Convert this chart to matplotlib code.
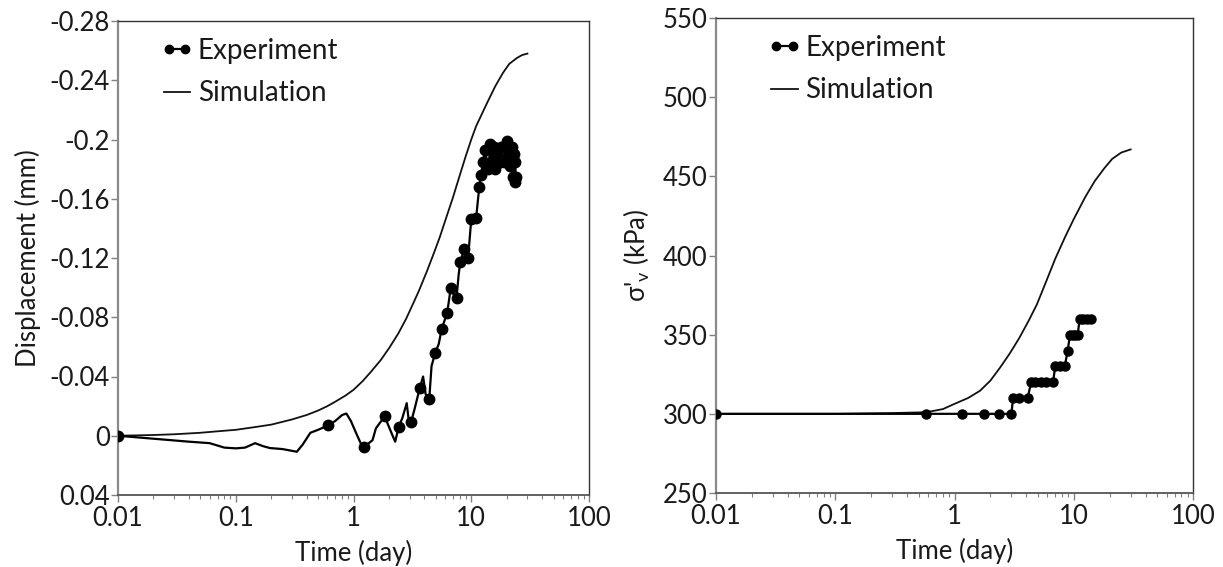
import matplotlib
matplotlib.use("Agg")
import matplotlib.pyplot as plt
from matplotlib.ticker import FixedLocator, FixedFormatter, LogLocator, NullFormatter
from matplotlib.lines import Line2D
from matplotlib.legend_handler import HandlerLine2D

plt.rcParams['font.family'] = ['Lato', 'DejaVu Sans']
plt.rcParams['mathtext.fontset'] = 'custom'
plt.rcParams['mathtext.rm'] = 'Lato'

# ---- displacement panel -------------------------------------------------
disp_sim_t = [0.01, 0.02, 0.03, 0.05, 0.07, 0.1, 0.15, 0.2, 0.3, 0.4, 0.5,
              0.6, 0.7, 0.85, 1.0, 1.2, 1.4, 1.7, 2.0, 2.4, 2.8, 3.2, 3.6,
              4.2, 4.8, 5.4, 6.0, 7.0, 8.0, 9.0, 10, 11, 13.5, 16, 18.6,
              21, 24.4, 27, 30]
disp_sim_v = [0.0, -0.0005, -0.001, -0.002, -0.003, -0.004, -0.006, -0.0075,
              -0.011, -0.014, -0.017, -0.020, -0.023, -0.027, -0.031, -0.037,
              -0.043, -0.051, -0.059, -0.069, -0.079, -0.089, -0.098, -0.111,
              -0.123, -0.134, -0.145, -0.161, -0.176, -0.189, -0.200, -0.209,
              -0.224, -0.236, -0.245, -0.251, -0.255, -0.257, -0.258]

disp_exp_t = [0.01, 0.02, 0.04, 0.06, 0.08, 0.1, 0.12, 0.146, 0.17, 0.195,
              0.25, 0.33, 0.37, 0.43, 0.5, 0.61, 0.7, 0.8, 0.87, 0.95,
              1.05, 1.15, 1.22, 1.35, 1.45, 1.55, 1.65, 1.84, 2.0, 2.15,
              2.26, 2.42, 2.6, 2.83, 2.93, 3.09, 3.3, 3.65, 3.9, 4.1,
              4.4, 4.6, 4.94, 5.3, 5.6, 6.25, 6.7, 7.0, 7.5, 7.8,
              8.05, 8.7, 9.4, 10.0, 11.0, 11.7, 12.1, 12.6, 13.1, 14.0,
              14.5, 15.0, 15.5, 16.0, 16.5, 17.0, 18.0, 19.0, 20.0, 21.0,
              21.5, 22.0, 22.5, 23.0, 23.4, 23.6, 23.8]
disp_exp_v = [0.0, 0.002, 0.004, 0.005, 0.008, 0.0085, 0.008, 0.005, 0.007, 0.0083,
              0.009, 0.0108, 0.006, -0.002, -0.004, -0.007, -0.010, -0.014, -0.015, -0.010,
              -0.002, 0.005, 0.0078, 0.005, 0.003, -0.005, -0.008, -0.013, -0.006, 0.0,
              0.004, -0.006, -0.012, -0.022, -0.012, -0.0095, -0.018, -0.032, -0.040, -0.028,
              -0.025, -0.047, -0.056, -0.062, -0.072, -0.083, -0.100, -0.096, -0.093, -0.108,
              -0.117, -0.126, -0.120, -0.146, -0.147, -0.168, -0.176, -0.185, -0.193, -0.180,
              -0.197, -0.185, -0.195, -0.180, -0.190, -0.184, -0.195, -0.185, -0.199, -0.190,
              -0.182, -0.195, -0.175, -0.190, -0.171, -0.185, -0.175]
disp_exp_marked = [0, 15, 22, 27, 31, 35, 37, 40, 42, 44, 45, 46, 48, 50, 51, 52,
                   53, 54, 55, 56, 57, 58, 59, 60, 61, 62, 63, 64, 65, 66, 67, 68,
                   69, 70, 71, 72, 73, 74, 75, 76]

# ---- effective vertical stress panel -----------------------------------
stress_sim_t = [0.01, 0.1, 0.3, 0.58, 0.8, 0.98, 1.3, 1.64, 2.0, 2.4, 2.9,
                3.5, 4.2, 4.9, 5.9, 7.0, 8.5, 10, 12.5, 15, 18, 21, 25, 30]
stress_sim_v = [300, 300, 300.5, 301, 303, 306, 310, 314.6, 321, 329, 338,
                348, 359, 369, 384, 398, 412, 423, 437, 447, 455, 461, 465, 467]

stress_exp_t = [0.01, 0.58, 1.15, 1.78, 2.36, 3.0, 3.1, 3.5, 4.1, 4.4, 4.7,
                5.3, 5.9, 6.7, 7.0, 7.6, 8.4, 8.9, 9.3, 9.8, 10.3, 10.8,
                11.2, 12.0, 12.8, 13.9]
stress_exp_v = [300, 300, 300, 300, 300, 300, 310, 310, 310, 320, 320,
                320, 320, 320, 330, 330, 330, 340, 350, 350, 350, 350,
                360, 360, 360, 360]

time_ticks = [0.01, 0.1, 1, 10, 100]
time_labels = ['0.01', '0.1', '1', '10', '100']
disp_ticks = [-0.28, -0.24, -0.20, -0.16, -0.12, -0.08, -0.04, 0.0, 0.04]
disp_labels = ['-0.28', '-0.24', '-0.2', '-0.16', '-0.12', '-0.08', '-0.04', '0', '0.04']
stress_ticks = [250, 300, 350, 400, 450, 500, 550]
stress_labels = ['250', '300', '350', '400', '450', '500', '550']

FS = 18.5
TXT = '#1a1a1a'

fig = plt.figure(figsize=(12.23, 5.67), dpi=100)
ax1 = fig.add_axes([118 / 1223, 1 - 495 / 567, 471 / 1223, 474 / 567])
ax2 = fig.add_axes([716 / 1223, 1 - 493 / 567, 477 / 1223, 475 / 567])


def style_axes(ax, yticks, ylabels):
    ax.set_xscale('log')
    ax.set_xlim(0.01, 100)
    ax.xaxis.set_major_locator(FixedLocator(time_ticks))
    ax.xaxis.set_major_formatter(FixedFormatter(time_labels))
    ax.xaxis.set_minor_locator(LogLocator(base=10, subs=range(2, 10)))
    ax.xaxis.set_minor_formatter(NullFormatter())
    ax.yaxis.set_major_locator(FixedLocator(yticks))
    ax.yaxis.set_major_formatter(FixedFormatter(ylabels))
    ax.tick_params(axis='both', which='major', direction='out', length=5,
                   width=1, colors='#808080', labelcolor=TXT, labelsize=FS)
    ax.tick_params(axis='y', which='major', pad=1)
    ax.tick_params(axis='x', which='major', pad=3)
    ax.tick_params(axis='x', which='minor', direction='out', length=3,
                   width=0.8, colors='#808080')
    ax.spines['left'].set_color('#8a8a8a')
    ax.spines['left'].set_linewidth(1.6)
    ax.spines['bottom'].set_color('#555555')
    ax.spines['bottom'].set_linewidth(1.3)
    for s in ('top', 'right'):
        ax.spines[s].set_color('#333333')
        ax.spines[s].set_linewidth(1.0)
    ax.set_xlabel('Time (day)', fontsize=FS, color=TXT, labelpad=6)


# displacement
ax1.plot(disp_sim_t, disp_sim_v, color='#111111', lw=1.3, zorder=2)
ax1.plot(disp_exp_t, disp_exp_v, color='black', lw=1.6, marker='o',
         markersize=7.5, markevery=disp_exp_marked, zorder=3)
ax1.set_ylim(0.04, -0.28)
style_axes(ax1, disp_ticks, disp_labels)
ax1.set_ylabel('Displacement (mm)', fontsize=FS, color=TXT, labelpad=6)

# stress
ax2.plot(stress_sim_t, stress_sim_v, color='#111111', lw=1.3, zorder=2)
ax2.plot(stress_exp_t, stress_exp_v, color='black', lw=1.6, marker='o',
         markersize=6.5, zorder=3)
ax2.set_ylim(250, 550)
style_axes(ax2, stress_ticks, stress_labels)
ax2.set_ylabel("σ$'_{\\mathregular{v}}$ (kPa)", fontsize=FS, color=TXT, labelpad=8)

for ax, anchor in ((ax1, (0.09, 0.965)), (ax2, (0.108, 0.965))):
    exp_handle = Line2D([], [], color='black', lw=1.6, marker='o', markersize=6)
    sim_handle = Line2D([], [], color='#111111', lw=1.3)
    ax.legend([exp_handle, sim_handle], ['Experiment', 'Simulation'],
              loc='upper left', bbox_to_anchor=anchor, frameon=False,
              fontsize=20, numpoints=2, handlelength=1.2, handletextpad=0.15,
              labelspacing=0.6, borderpad=0, borderaxespad=0, labelcolor=TXT,
              handler_map={sim_handle: HandlerLine2D(marker_pad=0.12)})

fig.savefig('out.png', dpi=100)
